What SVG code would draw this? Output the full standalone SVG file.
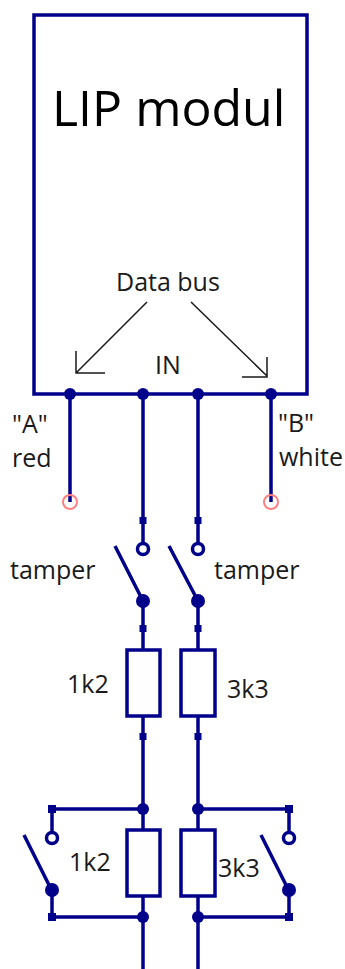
<svg xmlns="http://www.w3.org/2000/svg" width="345" height="969" viewBox="0 0 345 969">
<style>
text{font-family:"Open Sans","Noto Sans",sans-serif;fill:#1a1a1a}
.t{font-size:25px}
.w{fill:none;stroke:#00008b;stroke-width:3.5}
.d{fill:#00008b}
.o{fill:#fff;stroke:#00008b;stroke-width:3.5}
.a{fill:none;stroke:#1a1a1a;stroke-width:1.5}
.r{fill:#fff;stroke:#00008b;stroke-width:3.5}
.p{fill:none;stroke:#ff8080;stroke-width:2}
</style>
<rect width="345" height="969" fill="#fff"/>
<g id="lip-module">
<rect x="34" y="15" width="273" height="379" fill="#fff" stroke="#00008b" stroke-width="3.5"/>
<text x="52" y="126" font-size="50" style="fill:#000">LIP modul</text>
<text class="t" x="116" y="291">Data bus</text>
<text class="t" x="155" y="374">IN</text>
</g>
<g id="connectors">
<path class="w" d="M70 394V502M143 394V549M198 394V549M271 394V502"/>
<path class="w" d="M143 601V650M198 601V650M143 716V830M198 716V830M143 896V969M198 896V969"/>
<path class="w" d="M115 546L143 601M169 546L198 601"/>
<path class="w" d="M143 809H52V838M52 891V917H143M198 809H289V838M289 891V917H198"/>
<path class="w" d="M24 835L52 891M261 835L289 891"/>
<path class="a" d="M147 302L76 373M76 351V373H105M191 302L267 376M267 357V377H242"/>
</g>
<g id="junctions">
<circle class="d" cx="70" cy="394" r="6"/><circle class="d" cx="143" cy="394" r="6"/><circle class="d" cx="198" cy="394" r="6"/><circle class="d" cx="271" cy="394" r="6"/>
<rect class="d" x="139.500" y="517" width="7" height="7"/><rect class="d" x="194.500" y="517" width="7" height="7"/>
<circle class="o" cx="143" cy="549" r="5.500"/><circle class="o" cx="198" cy="549" r="5.500"/>
<circle class="d" cx="143" cy="601" r="7"/><circle class="d" cx="198" cy="601" r="7"/>
<rect class="d" x="139.500" y="625" width="7" height="7"/><rect class="d" x="194.500" y="625" width="7" height="7"/>
<rect class="d" x="139.500" y="733" width="7" height="7"/><rect class="d" x="194.500" y="733" width="7" height="7"/>
<circle class="d" cx="143" cy="809" r="6"/><circle class="d" cx="198" cy="809" r="6"/>
<circle class="d" cx="143" cy="917" r="6"/><circle class="d" cx="198" cy="917" r="6"/>
<rect class="d" x="48" y="805" width="8" height="8"/><rect class="d" x="285" y="805" width="8" height="8"/>
<rect class="d" x="48" y="913" width="8" height="8"/><rect class="d" x="285" y="913" width="8" height="8"/>
<circle class="o" cx="52" cy="838" r="5.500"/><circle class="o" cx="289" cy="838" r="5.500"/>
<circle class="d" cx="52" cy="890" r="7"/><circle class="d" cx="289" cy="890" r="7"/>
</g>
<g id="terminal-a"><circle class="p" cx="70" cy="502" r="7"/><text class="t" x="12" y="433">"A"</text><text class="t" x="12" y="467">red</text></g>
<g id="terminal-b"><circle class="p" cx="271" cy="502" r="7"/><text class="t" x="278" y="432">"B"</text><text class="t" x="279" y="466">white</text></g>
<g id="tamper-1"><text class="t" x="10" y="579">tamper</text></g>
<g id="tamper-2"><text class="t" x="214" y="579">tamper</text></g>
<g id="r-1k2-top"><rect class="r" x="127" y="650" width="33" height="66"/><text class="t" x="67" y="693">1k2</text></g>
<g id="r-3k3-top"><rect class="r" x="181" y="650" width="34" height="66"/><text class="t" x="227" y="698">3k3</text></g>
<g id="r-1k2-bottom"><rect class="r" x="127" y="830" width="33" height="66"/><text class="t" x="69" y="871">1k2</text></g>
<g id="r-3k3-bottom"><rect class="r" x="181" y="830" width="34" height="66"/><text class="t" x="218" y="877">3k3</text></g>
</svg>
